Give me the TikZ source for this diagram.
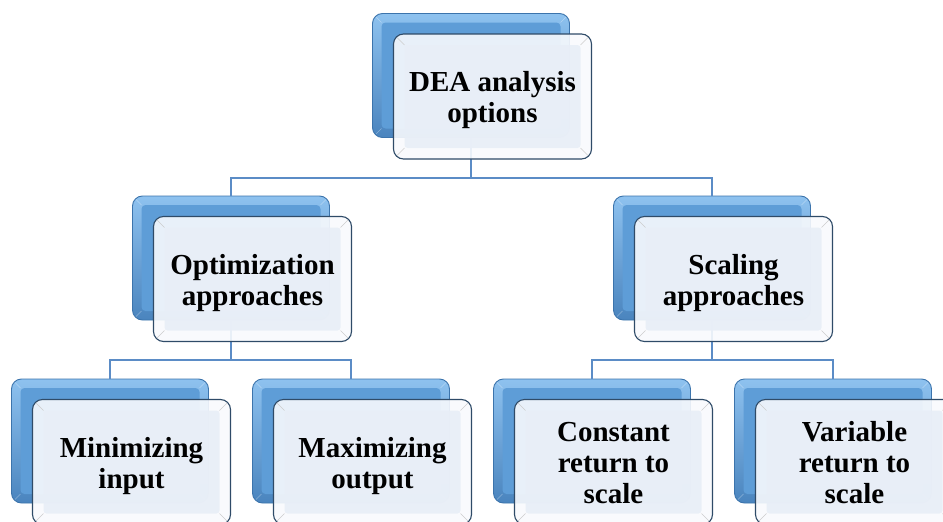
\documentclass[tikz,border=0pt]{standalone}
\usepackage{fontspec}
\setmainfont{Liberation Serif}
\usetikzlibrary{calc}
\definecolor{bluelight}{HTML}{8EC2EF}
\definecolor{bluemid}{HTML}{5E9DD7}
\definecolor{bluedark}{HTML}{4A84BE}
\definecolor{blueedge}{HTML}{3C74AC}
\definecolor{faceC}{HTML}{E8EEF7}
\definecolor{rimC}{HTML}{F8FAFD}
\definecolor{edgeC}{HTML}{2F4B68}
\definecolor{linkC}{HTML}{5B8CC6}
\tikzset{
  backbox/.style={rounded corners=10pt, minimum width=197pt, minimum height=124pt,
    inner sep=0pt, draw=blueedge, line width=0.9pt,
    top color=bluelight, bottom color=bluedark,
    path picture={
      \fill[bluemid, rounded corners=4pt]
        ([shift={(9pt,-9pt)}]path picture bounding box.north west)
        rectangle ([shift={(-9pt,9pt)}]path picture bounding box.south east);
      \draw[white, opacity=0.35, line width=0.6pt]
        (path picture bounding box.north west) -- ([shift={(9pt,-9pt)}]path picture bounding box.north west)
        (path picture bounding box.south west) -- ([shift={(9pt,9pt)}]path picture bounding box.south west)
        (path picture bounding box.north east) -- ([shift={(-9pt,-9pt)}]path picture bounding box.north east)
        (path picture bounding box.south east) -- ([shift={(-9pt,9pt)}]path picture bounding box.south east);
    }},
  frontbox/.style={rounded corners=10pt, minimum width=198pt, minimum height=125pt,
    inner sep=0pt, draw=edgeC, line width=1.1pt,
    fill=rimC, fill opacity=0.9,
    path picture={
      \fill[faceC, rounded corners=3pt]
        ([shift={(11pt,-11pt)}]path picture bounding box.north west)
        rectangle ([shift={(-11pt,11pt)}]path picture bounding box.south east);
      \draw[gray!40, line width=0.6pt]
        (path picture bounding box.north west) -- ([shift={(11pt,-11pt)}]path picture bounding box.north west)
        (path picture bounding box.south west) -- ([shift={(11pt,11pt)}]path picture bounding box.south west)
        (path picture bounding box.north east) -- ([shift={(-11pt,-11pt)}]path picture bounding box.north east)
        (path picture bounding box.south east) -- ([shift={(-11pt,11pt)}]path picture bounding box.south east);
    }},
  boxtext/.style={align=center, inner sep=0pt, yshift=-4pt,
    font=\bfseries\fontsize{29}{31}\selectfont},
  boxtextlong/.style={boxtext, yshift=3pt},
  link/.style={draw=linkC, line width=1.8pt}
}
\begin{document}
\begin{tikzpicture}[x=1pt, y=-1pt]
  \useasboundingbox (0,0) rectangle (943,522);
  \clip (0,0) rectangle (943,522);

  % back (blue) boxes
  \node[backbox] (b0) at (471,75.5) {};
  \node[backbox] (b1) at (231,258) {};
  \node[backbox] (b2) at (712,258) {};
  \node[backbox] (b3) at (110,441) {};
  \node[backbox] (b4) at (351,441) {};
  \node[backbox] (b5) at (592,441) {};
  \node[backbox] (b6) at (833,441) {};

  % junction points of the tree
  \coordinate (j0) at (471,178);
  \coordinate (j1) at (231,360);
  \coordinate (j2) at (712,360);

  % connectors between the back boxes
  \draw[link] (b0.south) -- (j0);
  \draw[link] (j0) -| (b1.north);
  \draw[link] (j0) -| (b2.north);
  \draw[link] (b1.south) -- (j1);
  \draw[link] (j1) -| (b3.north);
  \draw[link] (j1) -| (b4.north);
  \draw[link] (b2.south) -- (j2);
  \draw[link] (j2) -| (b5.north);
  \draw[link] (j2) -| (b6.north);

  % front (label) boxes
  \node[frontbox, label={[boxtext]center:{DEA analysis\\options}}] (f0) at ($(b0)+(21.5,21)$) {};
  \node[frontbox, label={[boxtext]center:{Optimization\\approaches}}] (f1) at ($(b1)+(21.5,21)$) {};
  \node[frontbox, label={[boxtext]center:{Scaling\\approaches}}] (f2) at ($(b2)+(21.5,21)$) {};
  \node[frontbox, label={[boxtext]center:{Minimizing\\input}}] (f3) at ($(b3)+(21.5,21)$) {};
  \node[frontbox, label={[boxtext]center:{Maximizing\\output}}] (f4) at ($(b4)+(21.5,21)$) {};
  \node[frontbox, label={[boxtextlong]center:{Constant\\return to\\scale}}] (f5) at ($(b5)+(21.5,21)$) {};
  \node[frontbox, label={[boxtextlong]center:{Variable\\return to\\scale}}] (f6) at ($(b6)+(21.5,21)$) {};
\end{tikzpicture}
\end{document}
